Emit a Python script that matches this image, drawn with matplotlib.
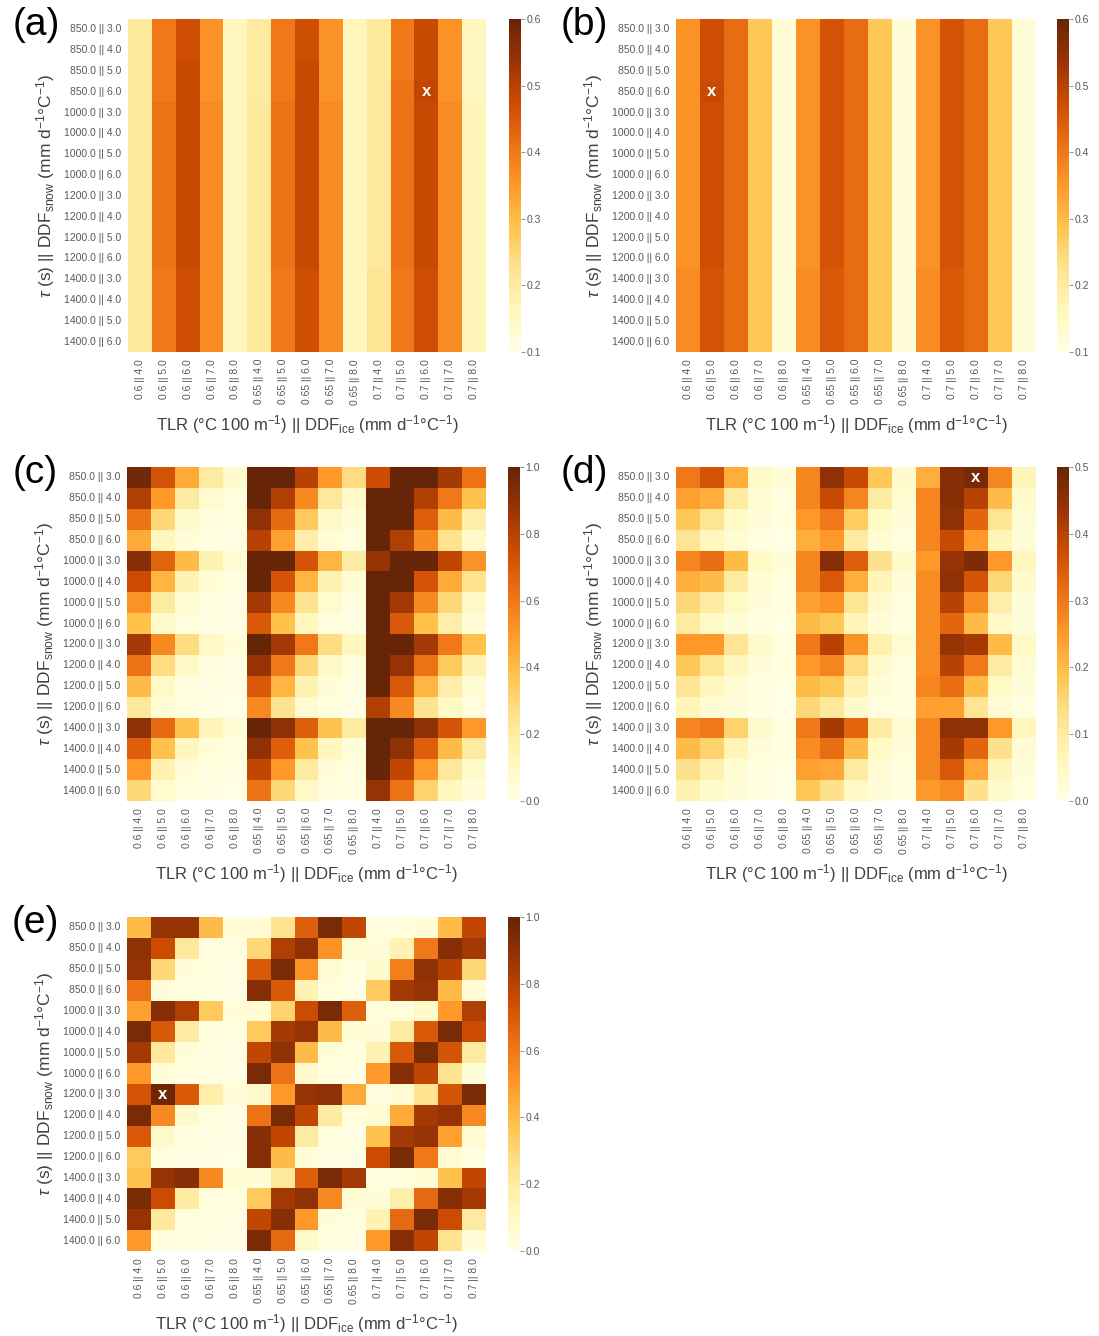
import matplotlib
matplotlib.use('Agg')
import matplotlib.pyplot as plt
import numpy as np
import seaborn as sns

sns.set_style('white')
plt.rcParams['font.family'] = ['Liberation Sans', 'DejaVu Sans']
plt.rcParams['mathtext.fontset'] = 'custom'
plt.rcParams['mathtext.rm'] = 'Liberation Sans'
plt.rcParams['mathtext.it'] = 'Liberation Sans:italic'

row_labels = ['850.0 || 3.0', '850.0 || 4.0', '850.0 || 5.0', '850.0 || 6.0',
              '1000.0 || 3.0', '1000.0 || 4.0', '1000.0 || 5.0', '1000.0 || 6.0',
              '1200.0 || 3.0', '1200.0 || 4.0', '1200.0 || 5.0', '1200.0 || 6.0',
              '1400.0 || 3.0', '1400.0 || 4.0', '1400.0 || 5.0', '1400.0 || 6.0']
col_labels = ['0.6 || 4.0', '0.6 || 5.0', '0.6 || 6.0', '0.6 || 7.0', '0.6 || 8.0',
              '0.65 || 4.0', '0.65 || 5.0', '0.65 || 6.0', '0.65 || 7.0', '0.65 || 8.0',
              '0.7 || 4.0', '0.7 || 5.0', '0.7 || 6.0', '0.7 || 7.0', '0.7 || 8.0']

panel_a = [
    [0.21, 0.40, 0.47, 0.36, 0.16, 0.20, 0.40, 0.47, 0.36, 0.16, 0.21, 0.40, 0.48, 0.36, 0.16],
    [0.21, 0.40, 0.47, 0.36, 0.16, 0.20, 0.40, 0.47, 0.36, 0.16, 0.21, 0.40, 0.48, 0.36, 0.16],
    [0.21, 0.40, 0.48, 0.36, 0.16, 0.20, 0.40, 0.48, 0.36, 0.16, 0.21, 0.40, 0.48, 0.36, 0.16],
    [0.21, 0.40, 0.48, 0.36, 0.16, 0.20, 0.40, 0.48, 0.36, 0.16, 0.21, 0.41, 0.49, 0.36, 0.16],
    [0.21, 0.41, 0.48, 0.37, 0.16, 0.21, 0.41, 0.48, 0.37, 0.16, 0.21, 0.41, 0.48, 0.37, 0.17],
    [0.21, 0.41, 0.48, 0.37, 0.16, 0.21, 0.41, 0.48, 0.37, 0.16, 0.21, 0.41, 0.48, 0.37, 0.17],
    [0.21, 0.41, 0.48, 0.37, 0.16, 0.21, 0.41, 0.48, 0.37, 0.16, 0.21, 0.41, 0.48, 0.37, 0.17],
    [0.21, 0.41, 0.48, 0.37, 0.16, 0.21, 0.41, 0.48, 0.37, 0.16, 0.21, 0.41, 0.48, 0.37, 0.17],
    [0.21, 0.41, 0.48, 0.37, 0.16, 0.21, 0.41, 0.48, 0.37, 0.16, 0.21, 0.41, 0.48, 0.37, 0.17],
    [0.21, 0.41, 0.48, 0.37, 0.16, 0.21, 0.41, 0.48, 0.37, 0.16, 0.21, 0.41, 0.48, 0.37, 0.17],
    [0.21, 0.41, 0.48, 0.37, 0.16, 0.21, 0.41, 0.48, 0.37, 0.16, 0.21, 0.41, 0.48, 0.37, 0.17],
    [0.21, 0.41, 0.48, 0.37, 0.16, 0.21, 0.41, 0.48, 0.37, 0.16, 0.21, 0.41, 0.48, 0.37, 0.17],
    [0.21, 0.40, 0.47, 0.37, 0.16, 0.21, 0.40, 0.47, 0.37, 0.16, 0.22, 0.40, 0.47, 0.37, 0.17],
    [0.21, 0.40, 0.47, 0.37, 0.16, 0.21, 0.40, 0.47, 0.37, 0.16, 0.22, 0.40, 0.47, 0.37, 0.17],
    [0.21, 0.40, 0.47, 0.37, 0.16, 0.21, 0.40, 0.47, 0.37, 0.16, 0.22, 0.40, 0.47, 0.37, 0.17],
    [0.21, 0.40, 0.47, 0.37, 0.16, 0.21, 0.40, 0.47, 0.37, 0.16, 0.22, 0.40, 0.47, 0.37, 0.17],
]

panel_b = [
    [0.36, 0.47, 0.42, 0.28, 0.12, 0.36, 0.46, 0.42, 0.28, 0.12, 0.36, 0.46, 0.42, 0.28, 0.12],
    [0.36, 0.47, 0.42, 0.28, 0.12, 0.36, 0.46, 0.42, 0.28, 0.12, 0.36, 0.46, 0.42, 0.28, 0.12],
    [0.36, 0.47, 0.42, 0.28, 0.12, 0.36, 0.46, 0.42, 0.28, 0.12, 0.36, 0.46, 0.42, 0.28, 0.12],
    [0.36, 0.48, 0.42, 0.28, 0.12, 0.36, 0.46, 0.42, 0.28, 0.12, 0.36, 0.46, 0.42, 0.28, 0.12],
    [0.36, 0.47, 0.42, 0.28, 0.12, 0.36, 0.46, 0.42, 0.28, 0.12, 0.36, 0.46, 0.42, 0.28, 0.12],
    [0.36, 0.47, 0.42, 0.28, 0.12, 0.36, 0.46, 0.42, 0.28, 0.12, 0.36, 0.46, 0.42, 0.28, 0.12],
    [0.36, 0.47, 0.42, 0.28, 0.12, 0.36, 0.46, 0.42, 0.28, 0.12, 0.36, 0.46, 0.42, 0.28, 0.12],
    [0.36, 0.47, 0.42, 0.28, 0.12, 0.36, 0.46, 0.42, 0.28, 0.12, 0.36, 0.46, 0.42, 0.28, 0.12],
    [0.36, 0.47, 0.42, 0.28, 0.12, 0.36, 0.46, 0.42, 0.28, 0.12, 0.36, 0.46, 0.42, 0.28, 0.12],
    [0.36, 0.47, 0.42, 0.28, 0.12, 0.36, 0.46, 0.42, 0.28, 0.12, 0.36, 0.46, 0.42, 0.28, 0.12],
    [0.36, 0.47, 0.42, 0.28, 0.12, 0.36, 0.46, 0.42, 0.28, 0.12, 0.36, 0.46, 0.42, 0.28, 0.12],
    [0.36, 0.47, 0.42, 0.28, 0.12, 0.36, 0.46, 0.42, 0.28, 0.12, 0.36, 0.46, 0.42, 0.28, 0.12],
    [0.37, 0.46, 0.42, 0.28, 0.12, 0.37, 0.45, 0.42, 0.28, 0.12, 0.37, 0.45, 0.42, 0.28, 0.12],
    [0.37, 0.46, 0.42, 0.28, 0.12, 0.37, 0.45, 0.42, 0.28, 0.12, 0.37, 0.45, 0.42, 0.28, 0.12],
    [0.37, 0.46, 0.42, 0.28, 0.12, 0.37, 0.45, 0.42, 0.28, 0.12, 0.37, 0.45, 0.42, 0.28, 0.12],
    [0.37, 0.46, 0.42, 0.28, 0.12, 0.37, 0.45, 0.42, 0.28, 0.12, 0.37, 0.45, 0.42, 0.28, 0.12],
]

panel_c = [
    [0.97, 0.72, 0.45, 0.20, 0.08, 1.00, 1.00, 0.80, 0.50, 0.28, 0.75, 1.00, 1.00, 0.85, 0.62],
    [0.82, 0.50, 0.20, 0.07, 0.03, 1.00, 0.82, 0.55, 0.22, 0.08, 1.00, 1.00, 0.82, 0.60, 0.38],
    [0.62, 0.30, 0.08, 0.03, 0.02, 0.90, 0.65, 0.35, 0.10, 0.04, 1.00, 1.00, 0.68, 0.40, 0.18],
    [0.45, 0.12, 0.04, 0.02, 0.01, 0.80, 0.48, 0.18, 0.05, 0.02, 1.00, 0.82, 0.55, 0.25, 0.08],
    [0.92, 0.67, 0.40, 0.15, 0.06, 1.00, 1.00, 0.72, 0.42, 0.20, 0.88, 1.00, 1.00, 0.78, 0.52],
    [0.75, 0.42, 0.15, 0.05, 0.02, 1.00, 0.72, 0.42, 0.15, 0.05, 1.00, 1.00, 0.72, 0.45, 0.25],
    [0.52, 0.20, 0.06, 0.02, 0.01, 0.85, 0.55, 0.25, 0.07, 0.02, 1.00, 0.85, 0.55, 0.30, 0.10],
    [0.38, 0.08, 0.03, 0.01, 0.01, 0.70, 0.38, 0.12, 0.03, 0.01, 1.00, 0.70, 0.38, 0.18, 0.05],
    [0.85, 0.55, 0.28, 0.10, 0.04, 1.00, 0.85, 0.60, 0.28, 0.12, 1.00, 1.00, 0.85, 0.60, 0.38],
    [0.62, 0.28, 0.10, 0.03, 0.01, 0.88, 0.60, 0.30, 0.10, 0.03, 1.00, 0.88, 0.62, 0.35, 0.15],
    [0.40, 0.10, 0.03, 0.01, 0.01, 0.70, 0.42, 0.15, 0.04, 0.01, 1.00, 0.70, 0.42, 0.18, 0.06],
    [0.22, 0.05, 0.02, 0.01, 0.00, 0.55, 0.25, 0.07, 0.02, 0.01, 0.82, 0.55, 0.25, 0.10, 0.03],
    [0.90, 0.65, 0.38, 0.14, 0.05, 1.00, 0.90, 0.68, 0.38, 0.20, 1.00, 1.00, 0.90, 0.72, 0.50],
    [0.68, 0.38, 0.12, 0.04, 0.02, 0.90, 0.68, 0.38, 0.12, 0.04, 1.00, 0.90, 0.68, 0.40, 0.20],
    [0.50, 0.16, 0.05, 0.02, 0.01, 0.78, 0.50, 0.20, 0.05, 0.02, 1.00, 0.78, 0.50, 0.22, 0.08],
    [0.30, 0.07, 0.02, 0.01, 0.00, 0.62, 0.30, 0.09, 0.03, 0.01, 0.88, 0.62, 0.32, 0.12, 0.04],
]

panel_d = [
    [0.30, 0.36, 0.22, 0.05, 0.02, 0.28, 0.45, 0.38, 0.18, 0.04, 0.22, 0.46, 0.48, 0.28, 0.07],
    [0.24, 0.22, 0.10, 0.03, 0.01, 0.28, 0.38, 0.28, 0.10, 0.03, 0.28, 0.46, 0.40, 0.20, 0.04],
    [0.18, 0.12, 0.05, 0.02, 0.01, 0.25, 0.30, 0.17, 0.05, 0.02, 0.28, 0.45, 0.33, 0.12, 0.03],
    [0.12, 0.06, 0.03, 0.01, 0.00, 0.22, 0.25, 0.10, 0.03, 0.01, 0.28, 0.38, 0.25, 0.07, 0.02],
    [0.28, 0.32, 0.20, 0.05, 0.02, 0.28, 0.46, 0.34, 0.13, 0.04, 0.25, 0.44, 0.47, 0.25, 0.06],
    [0.22, 0.20, 0.10, 0.03, 0.01, 0.28, 0.35, 0.22, 0.07, 0.02, 0.27, 0.45, 0.36, 0.15, 0.04],
    [0.15, 0.10, 0.05, 0.02, 0.01, 0.24, 0.26, 0.12, 0.04, 0.01, 0.27, 0.40, 0.27, 0.09, 0.02],
    [0.10, 0.05, 0.02, 0.01, 0.00, 0.20, 0.18, 0.07, 0.02, 0.01, 0.27, 0.33, 0.20, 0.05, 0.02],
    [0.25, 0.25, 0.12, 0.04, 0.01, 0.30, 0.40, 0.26, 0.08, 0.03, 0.27, 0.44, 0.42, 0.20, 0.05],
    [0.18, 0.12, 0.06, 0.02, 0.01, 0.25, 0.28, 0.14, 0.04, 0.01, 0.27, 0.40, 0.30, 0.10, 0.03],
    [0.12, 0.06, 0.03, 0.01, 0.00, 0.20, 0.18, 0.08, 0.02, 0.01, 0.28, 0.32, 0.20, 0.05, 0.02],
    [0.07, 0.03, 0.02, 0.01, 0.00, 0.15, 0.11, 0.04, 0.01, 0.01, 0.24, 0.24, 0.12, 0.03, 0.01],
    [0.28, 0.30, 0.16, 0.04, 0.01, 0.30, 0.42, 0.33, 0.10, 0.03, 0.28, 0.45, 0.45, 0.25, 0.06],
    [0.20, 0.16, 0.07, 0.02, 0.01, 0.27, 0.32, 0.20, 0.05, 0.02, 0.28, 0.42, 0.33, 0.13, 0.03],
    [0.13, 0.08, 0.03, 0.01, 0.00, 0.24, 0.23, 0.10, 0.03, 0.01, 0.28, 0.35, 0.23, 0.07, 0.02],
    [0.08, 0.04, 0.02, 0.01, 0.00, 0.18, 0.13, 0.05, 0.02, 0.01, 0.25, 0.27, 0.13, 0.04, 0.01],
]

panel_e = [
    [0.40, 0.88, 0.88, 0.40, 0.05, 0.05, 0.25, 0.68, 0.95, 0.78, 0.03, 0.03, 0.05, 0.40, 0.78],
    [0.90, 0.75, 0.22, 0.03, 0.02, 0.30, 0.82, 0.90, 0.52, 0.06, 0.04, 0.15, 0.60, 0.92, 0.85],
    [0.88, 0.30, 0.04, 0.02, 0.01, 0.70, 0.95, 0.52, 0.06, 0.02, 0.08, 0.58, 0.90, 0.80, 0.30],
    [0.62, 0.04, 0.02, 0.01, 0.01, 0.92, 0.70, 0.15, 0.03, 0.01, 0.35, 0.85, 0.88, 0.40, 0.05],
    [0.48, 0.92, 0.82, 0.35, 0.05, 0.06, 0.32, 0.75, 0.95, 0.68, 0.03, 0.03, 0.08, 0.50, 0.82],
    [0.95, 0.70, 0.20, 0.03, 0.02, 0.35, 0.85, 0.88, 0.40, 0.05, 0.04, 0.20, 0.70, 0.95, 0.75],
    [0.85, 0.22, 0.04, 0.02, 0.01, 0.78, 0.90, 0.40, 0.04, 0.02, 0.15, 0.70, 0.95, 0.72, 0.20],
    [0.50, 0.04, 0.02, 0.01, 0.01, 0.95, 0.62, 0.08, 0.02, 0.01, 0.50, 0.92, 0.78, 0.25, 0.04],
    [0.72, 0.98, 0.70, 0.18, 0.04, 0.08, 0.50, 0.88, 0.90, 0.45, 0.03, 0.06, 0.25, 0.72, 0.95],
    [0.95, 0.55, 0.08, 0.02, 0.01, 0.62, 0.95, 0.78, 0.20, 0.03, 0.06, 0.45, 0.85, 0.88, 0.55],
    [0.70, 0.08, 0.02, 0.01, 0.01, 0.92, 0.78, 0.20, 0.03, 0.01, 0.38, 0.85, 0.88, 0.48, 0.06],
    [0.35, 0.02, 0.01, 0.01, 0.00, 0.92, 0.40, 0.05, 0.01, 0.01, 0.75, 0.95, 0.60, 0.06, 0.02],
    [0.38, 0.88, 0.92, 0.55, 0.06, 0.04, 0.22, 0.68, 0.95, 0.85, 0.02, 0.03, 0.05, 0.38, 0.78],
    [0.95, 0.75, 0.20, 0.03, 0.02, 0.35, 0.85, 0.90, 0.55, 0.06, 0.04, 0.18, 0.65, 0.92, 0.85],
    [0.88, 0.22, 0.03, 0.02, 0.01, 0.78, 0.92, 0.50, 0.04, 0.02, 0.15, 0.65, 0.95, 0.75, 0.20],
    [0.50, 0.03, 0.02, 0.01, 0.01, 0.95, 0.65, 0.08, 0.02, 0.01, 0.50, 0.92, 0.78, 0.25, 0.04],
]

W, H = 1099, 1336
fig = plt.figure(figsize=(W / 100, H / 100), dpi=100)


def box(x0, y0, x1, y1):
    return [x0 / W, 1 - y1 / H, (x1 - x0) / W, (y1 - y0) / H]


# name, data, vmin, vmax, heatmap box, colorbar box, mark the max?
panels = [
    ('(a)', panel_a, 0.1, 0.6, (128, 19, 486, 352), (509, 19, 521, 352), True),
    ('(b)', panel_b, 0.1, 0.6, (676, 19, 1036, 352), (1057, 19, 1069, 352), True),
    ('(c)', panel_c, 0.0, 1.0, (127, 467, 486, 801), (508, 467, 520, 801), False),
    ('(d)', panel_d, 0.0, 0.5, (676, 467, 1036, 801), (1057, 467, 1069, 801), True),
    ('(e)', panel_e, 0.0, 1.0, (127, 917, 486, 1251), (508, 917, 520, 1251), True),
]

xlab = r'TLR (°C 100 m$^{-1}$) || DDF$_{\mathrm{ice}}$ (mm d$^{-1}$°C$^{-1}$)'
ylab = r'$\tau$ (s) || DDF$_{\mathrm{snow}}$ (mm d$^{-1}$°C$^{-1}$)'

for name, vals, vmin, vmax, hb, cb, mark in panels:
    data = np.array(vals)
    ax = fig.add_axes(box(*hb))
    cax = fig.add_axes(box(*cb))
    sns.heatmap(data, ax=ax, cbar_ax=cax, cmap='YlOrBr', vmin=vmin, vmax=vmax,
                xticklabels=col_labels, yticklabels=row_labels)
    ax.tick_params(length=0, labelsize=7.5, labelcolor='0.35', pad=5)
    ax.set_xticklabels(col_labels, rotation=90)
    ax.set_yticklabels(row_labels, rotation=0)
    ax.set_xlabel(xlab, fontsize=12, color='0.25', labelpad=6)
    ax.set_ylabel(ylab, fontsize=12.5, color='0.25', labelpad=5)
    cax.tick_params(length=3, width=0.6, color='0.5', labelsize=7.5, labelcolor='0.35', pad=1)
    if mark:
        i, j = np.unravel_index(np.argmax(data), data.shape)
        ax.text(j + 0.5, i + 0.5, 'x', color='white', ha='center', va='center',
                fontsize=12, fontweight='bold')
    fig.text((hb[0] - 92) / W, 1 - (hb[1] + 6) / H, name, fontsize=28,
             ha='center', va='center', color='black')

fig.savefig('out.png', dpi=100)
